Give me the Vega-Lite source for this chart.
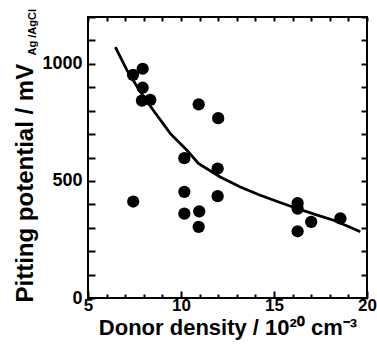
{
  "$schema": "https://vega.github.io/schema/vega-lite/v6.json",
  "width": 279,
  "height": 281,
  "autosize": "none",
  "padding": {"left": 88, "top": 17, "right": 10, "bottom": 49},
  "background": "white",
  "datasets": {
    "points": [
      {"density": 7.42, "potential": 953},
      {"density": 7.94, "potential": 979},
      {"density": 7.94, "potential": 898},
      {"density": 7.90, "potential": 843},
      {"density": 8.35, "potential": 846},
      {"density": 7.43, "potential": 412},
      {"density": 10.95, "potential": 827},
      {"density": 12.0, "potential": 768},
      {"density": 10.18, "potential": 597},
      {"density": 11.97, "potential": 553},
      {"density": 10.18, "potential": 453},
      {"density": 11.97, "potential": 435},
      {"density": 10.18, "potential": 360},
      {"density": 10.98, "potential": 370},
      {"density": 10.95, "potential": 304},
      {"density": 16.27, "potential": 405},
      {"density": 16.27, "potential": 382},
      {"density": 16.27, "potential": 285},
      {"density": 17.0, "potential": 325},
      {"density": 18.57, "potential": 340}
    ],
    "curve": [
      {"density": 6.47, "potential": 1071},
      {"density": 7.10, "potential": 972},
      {"density": 7.77, "potential": 886},
      {"density": 8.44, "potential": 809},
      {"density": 9.43, "potential": 702},
      {"density": 10.32, "potential": 631},
      {"density": 10.95, "potential": 574},
      {"density": 12.11, "potential": 517},
      {"density": 13.19, "potential": 474},
      {"density": 14.26, "potential": 439},
      {"density": 15.25, "potential": 410},
      {"density": 16.24, "potential": 382},
      {"density": 17.2, "potential": 357},
      {"density": 18.2, "potential": 332},
      {"density": 19.0, "potential": 305},
      {"density": 19.64, "potential": 283}
    ]
  },
  "config": {
    "view": {"stroke": "black", "strokeWidth": 2},
    "font": "Liberation Sans",
    "axis": {
      "domain": false,
      "grid": false,
      "tickColor": "black",
      "tickWidth": 2,
      "labelFont": "Liberation Sans",
      "labelFontWeight": "bold",
      "labelColor": "black",
      "labelFontSize": 18,
      "labelFlush": false,
      "labelOverlap": false,
      "titleFont": "Liberation Sans",
      "titleFontWeight": "bold",
      "titleColor": "black"
    }
  },
  "resolve": {"axis": {"x": "independent", "y": "independent"}},
  "layer": [
    {
      "data": {"name": "curve"},
      "mark": {"type": "line", "color": "black", "strokeWidth": 2.8},
      "encoding": {
        "x": {
          "field": "density",
          "type": "quantitative",
          "scale": {"domain": [5, 20], "nice": false, "zero": false},
          "axis": {
            "orient": "bottom",
            "values": [5, 6, 7, 8, 9, 10, 11, 12, 13, 14, 15, 16, 17, 18, 19, 20],
            "labelExpr": "datum.value % 5 === 0 ? datum.label : ''",
            "labelFontSize": 17,
            "tickSize": {"condition": {"test": "datum.value % 5 === 0", "value": -7}, "value": -4},
            "labelPadding": 6,
            "title": "Donor density / 10²⁰ cm⁻³",
            "titleFontSize": 22,
            "titleBaseline": "alphabetic",
            "titleY": 36
          }
        },
        "y": {
          "field": "potential",
          "type": "quantitative",
          "scale": {"domain": [0, 1200], "nice": false},
          "axis": {
            "orient": "left",
            "values": [0, 100, 200, 300, 400, 500, 600, 700, 800, 900, 1000, 1100, 1200],
            "format": "d",
            "labelExpr": "datum.value % 500 === 0 ? datum.label : ''",
            "tickSize": -7,
            "labelPadding": 13,
            "title": "Pitting potential / mV",
            "titleFontSize": 24,
            "titleAngle": 270,
            "titleAlign": "left",
            "titleBaseline": "alphabetic",
            "titleX": -56,
            "titleY": 285
          }
        }
      }
    },
    {
      "data": {"name": "points"},
      "mark": {"type": "circle", "size": 150, "color": "black", "opacity": 1},
      "encoding": {
        "x": {
          "field": "density",
          "type": "quantitative",
          "scale": {"domain": [5, 20], "nice": false, "zero": false},
          "axis": {
            "orient": "top",
            "values": [5, 6, 7, 8, 9, 10, 11, 12, 13, 14, 15, 16, 17, 18, 19, 20],
            "tickSize": -4,
            "labels": false,
            "title": null
          }
        },
        "y": {
          "field": "potential",
          "type": "quantitative",
          "scale": {"domain": [0, 1200], "nice": false},
          "axis": {
            "orient": "right",
            "values": [0, 100, 200, 300, 400, 500, 600, 700, 800, 900, 1000, 1100, 1200],
            "tickSize": -6,
            "labels": false,
            "title": "Ag /AgCl",
            "titleFontSize": 11,
            "titleAngle": 270,
            "titleAlign": "left",
            "titleBaseline": "alphabetic",
            "titleX": -332,
            "titleY": 38
          }
        }
      }
    }
  ]
}
